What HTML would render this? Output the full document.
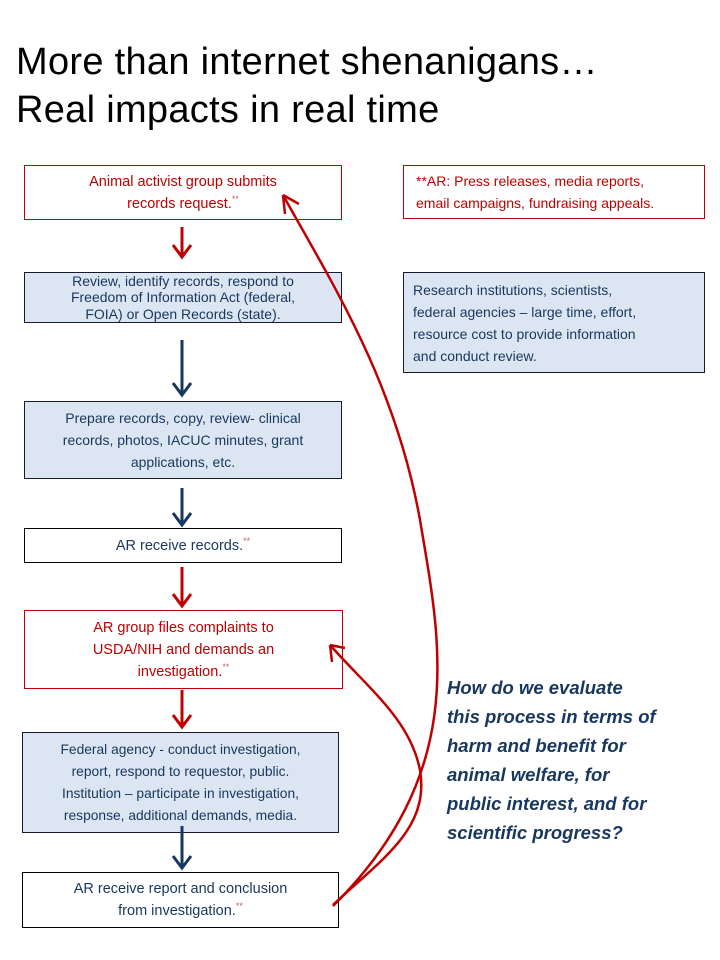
<!DOCTYPE html>
<html><head><style>
body{margin:0;width:720px;height:960px;background:#fff;position:relative;font-family:"Liberation Sans",sans-serif;overflow:hidden}
.t{position:absolute;left:16px;font-size:38px;color:#000;line-height:48px;letter-spacing:0.3px}
.b{position:absolute;box-sizing:border-box;text-align:center;font-size:14.5px;line-height:22px;display:flex;align-items:center;justify-content:center;padding:0 2px;white-space:nowrap}
.r{border:1px solid #c00000;color:#c00000;background:#fff}
.n{border:1px solid #1a1a2e;color:#17375e;background:#dce6f2}
.w{border:1px solid #000;color:#17375e;background:#fff}
sup{font-size:9px;color:#c06060;vertical-align:6px;line-height:0}
.q{position:absolute;left:447px;top:673px;width:270px;font-size:18.5px;line-height:29px;font-weight:bold;font-style:italic;color:#17375e;white-space:nowrap}
</style></head><body>
<div class="t" style="top:38px">More than internet shenanigans…</div>
<div class="t" style="top:86px">Real impacts in real time</div>

<div class="b r" style="left:24px;top:165px;width:318px;height:55px"><div>Animal activist group submits<br>records request.<sup>**</sup></div></div>
<div class="b n" style="left:24px;top:272px;width:318px;height:51px;line-height:16.5px;font-size:14px"><div>Review, identify records, respond to<br>Freedom of Information Act (federal,<br>FOIA) or Open Records (state).</div></div>
<div class="b n" style="left:24px;top:401px;width:318px;height:78px;font-size:14px"><div>Prepare records, copy, review- clinical<br>records, photos, IACUC minutes, grant<br>applications,  etc.</div></div>
<div class="b w" style="left:24px;top:528px;width:318px;height:35px"><div>AR receive records.<sup>**</sup></div></div>
<div class="b r" style="left:24px;top:610px;width:319px;height:79px"><div>AR group files complaints to<br>USDA/NIH and demands an<br>investigation.<sup>**</sup></div></div>
<div class="b n" style="left:22px;top:732px;width:317px;height:101px;font-size:13.8px"><div>Federal agency - conduct investigation,<br>report, respond to requestor, public.<br>Institution – participate in investigation,<br>response, additional demands, media.</div></div>
<div class="b w" style="left:22px;top:872px;width:317px;height:56px"><div>AR receive report and conclusion<br>from investigation.<sup>**</sup></div></div>

<div class="b r" style="left:403px;top:165px;width:302px;height:54px;text-align:left;justify-content:flex-start;padding-left:12px;font-size:14px"><div>**AR:  Press releases, media reports,<br>email campaigns, fundraising appeals.</div></div>
<div class="b n" style="left:403px;top:272px;width:302px;height:101px;text-align:left;justify-content:flex-start;padding-left:9px;font-size:14px"><div>Research institutions, scientists,<br>federal agencies – large time, effort,<br>resource cost to provide information<br>and conduct review.</div></div>

<div class="q">How do we evaluate<br>this process in terms of<br>harm and benefit for<br>animal welfare, for<br>public interest, and for<br>scientific progress?</div>

<svg width="720" height="960" style="position:absolute;left:0;top:0" fill="none" stroke-width="3">
<g stroke="#c00000">
<path d="M182 227V256M173 245L182 257L191 245"/>
<path d="M182 567V606M173 594L182 606L191 594"/>
<path d="M182 690V726M173 715L182 727L191 715"/>
</g>
<g stroke="#17375e">
<path d="M182 340V395M173 383L182 395L191 383"/>
<path d="M182 488V524M173 513L182 525L191 513"/>
<path d="M182 826V867M173 856L182 868L191 856"/>
</g>
<g stroke="#c00000" stroke-width="2.5">
<path d="M333 906C470 770 440 640 420 520C395 380 330 280 283 195"/>
<path d="M283 195L285 214M283 195L299 204"/>
<path d="M333 905C380 860 430 830 420 770C410 720 370 690 330 645"/>
<path d="M330 645L332 662M330 645L345 648"/>
</g>
</svg>
</body></html>
